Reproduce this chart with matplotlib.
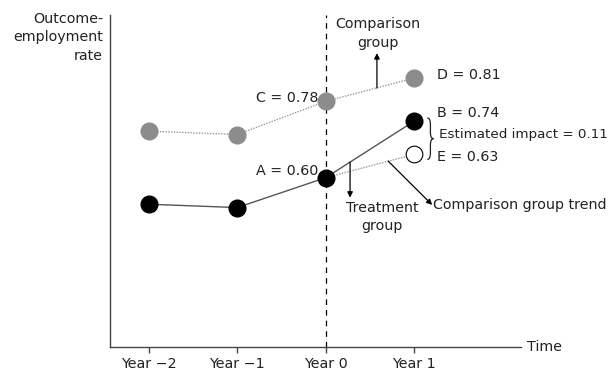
import matplotlib.pyplot as plt
from matplotlib.path import Path
from matplotlib.patches import PathPatch

years = [-2, -1, 0, 1]
year_labels = ['Year \u22122', 'Year \u22121', 'Year 0', 'Year 1']
# heights read off the schematic (not to scale with the labelled values)
comparison = [0.65, 0.64, 0.74, 0.81]
treatment = [0.43, 0.42, 0.51, 0.68]
trend_end = 0.58
point_labels = {'A': '0.60', 'B': '0.74', 'C': '0.78', 'D': '0.81', 'E': '0.63'}
impact = '0.11'

plt.rcParams['font.family'] = ['DejaVu Sans']
plt.rcParams['text.color'] = '#222222'
fs = 10.3

fig = plt.figure(figsize=(6.14, 3.74), dpi=100)
ax = fig.add_axes([110/614, 1-347/374, (521-110)/614, (347-15)/374])
ax.set_xlim(-2.44, 2.21)
ax.set_ylim(0, 1)

for s in ['top', 'right']:
    ax.spines[s].set_visible(False)
for s in ['left', 'bottom']:
    ax.spines[s].set_color('#444444')
    ax.spines[s].set_linewidth(1)
ax.set_yticks([])
ax.set_xticks(years)
ax.set_xticklabels(year_labels, fontsize=fs, color='#222222')
ax.tick_params(axis='x', length=4, width=1, color='#444444', pad=3)

# year 0 dashed line
ax.plot([0, 0], [0, 1.0], color='black', lw=0.9, dashes=(4.5, 4), zorder=1)

# lines
ax.plot(years, comparison, color='#999999', lw=1, ls=(0, (1, 1)), zorder=2)
ax.plot(years, treatment, color='#555555', lw=1, zorder=2)
ax.plot([0, 1], [treatment[2], trend_end], color='#999999', lw=1, ls=(0, (1, 1)), zorder=2)

# markers
ax.plot(years, comparison, 'o', color='#8c8c8c', ms=12, mec='#8c8c8c', zorder=3)
ax.plot(years, treatment, 'o', color='black', ms=12, zorder=3)
ax.plot([1], [trend_end], 'o', mfc='white', mec='black', mew=0.8, ms=12, zorder=3)

# point labels
ax.text(-0.08, 0.75, 'C = ' + point_labels['C'], ha='right', va='center', fontsize=fs)
ax.text(-0.08, 0.53, 'A = ' + point_labels['A'], ha='right', va='center', fontsize=fs)
ax.text(1.26, 0.82, 'D = ' + point_labels['D'], ha='left', va='center', fontsize=fs)
ax.text(1.26, 0.705, 'B = ' + point_labels['B'], ha='left', va='center', fontsize=fs)
ax.text(1.26, 0.572, 'E = ' + point_labels['E'], ha='left', va='center', fontsize=fs)
ax.text(1.285, 0.64, 'Estimated impact = ' + impact, ha='left', va='center', fontsize=9.7)

# curly brace
x0, x1, y0, y1 = 1.15, 1.22, 0.565, 0.69
ym = (y0 + y1) / 2
xm = (x0 + x1) / 2
verts = [(x0, y1), (xm, y1), (xm, y1 - 0.02), (xm, ym + 0.02), (xm, ym), (x1, ym),
         (xm, ym), (xm, ym - 0.02), (xm, y0 + 0.02), (xm, y0), (x0, y0)]
codes = [Path.MOVETO, Path.CURVE3, Path.CURVE3, Path.LINETO, Path.CURVE3, Path.CURVE3,
         Path.CURVE3, Path.CURVE3, Path.LINETO, Path.CURVE3, Path.CURVE3]
ax.add_patch(PathPatch(Path(verts, codes), fill=False, lw=0.9, color='#222222', clip_on=False))

# group annotations
arrow = dict(arrowstyle='-|>', color='black', lw=0.9, mutation_scale=8, shrinkA=0, shrinkB=0)
ax.annotate('', xy=(0.58, 0.885), xytext=(0.58, 0.78), arrowprops=arrow)
ax.text(0.593, 0.895, 'Comparison\ngroup', ha='center', va='bottom', fontsize=fs, linespacing=1.4)
ax.annotate('', xy=(0.276, 0.45), xytext=(0.276, 0.557), arrowprops=arrow)
ax.text(0.64, 0.44, 'Treatment\ngroup', ha='center', va='top', fontsize=fs, linespacing=1.4)
ax.annotate('', xy=(1.205, 0.428), xytext=(0.707, 0.56), arrowprops=arrow, annotation_clip=False)
ax.text(1.215, 0.428, 'Comparison group trend', ha='left', va='center', fontsize=fs, clip_on=False)

fig.text(103/614, 1-12/374, 'Outcome-\nemployment\nrate', ha='right', va='top', fontsize=fs, linespacing=1.4)
fig.text(527/614, 1-347/374, 'Time', ha='left', va='center', fontsize=fs)

fig.savefig('out.png', dpi=100)
